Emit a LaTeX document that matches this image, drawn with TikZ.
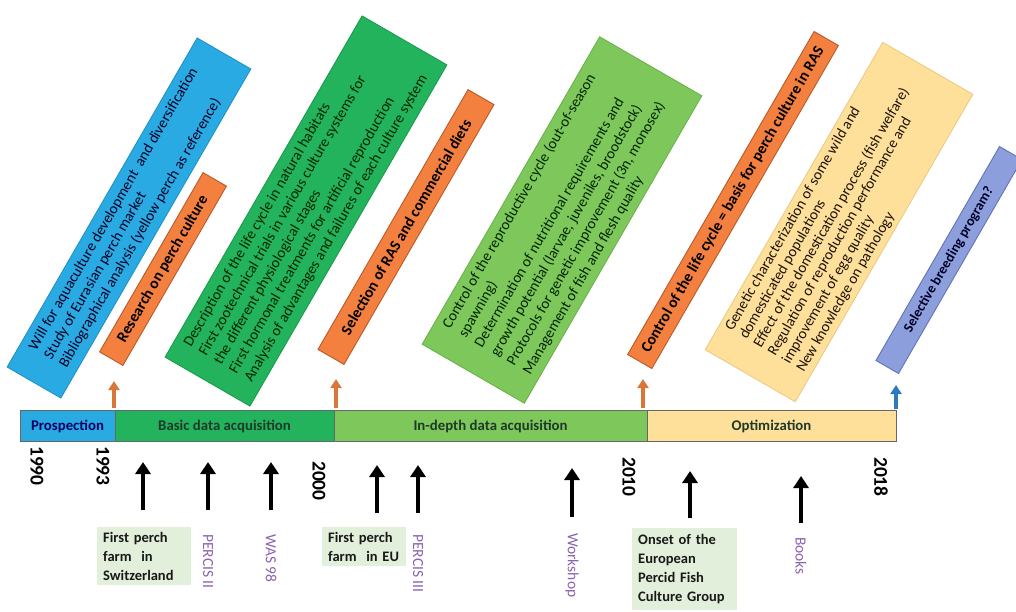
\documentclass[tikz,border=0pt]{standalone}
\usepackage{fontspec}
\setmainfont{Carlito}
\usetikzlibrary{arrows.meta}
\definecolor{cblue}{HTML}{2AAAE2}
\definecolor{cblueD}{HTML}{1E8FC4}
\definecolor{cgreen}{HTML}{22B35C}
\definecolor{cgreenD}{HTML}{18994A}
\definecolor{clgreen}{HTML}{7EC75B}
\definecolor{clgreenD}{HTML}{69B048}
\definecolor{cyellow}{HTML}{FEE09B}
\definecolor{cyellowD}{HTML}{EBC87E}
\definecolor{corange}{HTML}{F3803F}
\definecolor{corangeD}{HTML}{B85A2A}
\definecolor{cpurple}{HTML}{8C9FDC}
\definecolor{cpurpleD}{HTML}{6073B5}
\definecolor{clab}{HTML}{E2EFDA}
\definecolor{cviolet}{HTML}{8A62B0}
\definecolor{carrowO}{HTML}{D9773A}
\definecolor{carrowB}{HTML}{2E78C0}
\definecolor{cbartext}{HTML}{1F3A2A}
\begin{document}
\begin{tikzpicture}[x=1pt,y=1pt,
  bigbox/.style={rotate=60, draw, line width=0.8pt, inner sep=0pt,
     align=left, font=\fontsize{15}{17.5}\selectfont},
  thinbox/.style={rotate=60, draw, line width=0.9pt, inner sep=0pt, align=center,
     font=\bfseries\fontsize{15.5}{17}\selectfont, text=black},
  seg/.style={draw=gray!80!black, line width=0.8pt, minimum height=31pt, inner sep=0pt,
     font=\bfseries\fontsize{14.8}{16}\selectfont, text=cbartext},
  year/.style={rotate=-90, anchor=west, inner sep=0pt, font=\bfseries\fontsize{19.5}{21}\selectfont},
  evbox/.style={fill=clab, anchor=north west, inner xsep=6pt, inner ysep=5pt, align=left,
     font=\bfseries\fontsize{14.5}{19}\selectfont, text=black!90},
  evtxt/.style={rotate=-90, anchor=west, inner sep=0pt, text=cviolet, font=\fontsize{15.5}{17}\selectfont},
  blarrow/.style={line width=4.2pt, -{Triangle[width=15pt,length=12pt]}, black},
  smarrow/.style={line width=3.6pt, -{Triangle[width=11pt,length=9pt]}}
]
\useasboundingbox (0,0) rectangle (1016,-611);

% ---------------- rotated boxes ----------------
\node[bigbox, fill=cblue, draw=cblueD, text=black!75!blue!60!black, minimum width=380, minimum height=62]
  (b1) at (129,-218) {Will for aquaculture development\ \ and diversification\\Study of Eurasian perch market\\Bibliographical analysis (yellow perch as reference)};
\node[thinbox, fill=corange, draw=corangeD, minimum width=207, minimum height=27]
  (o1) at (163,-269) {Research on perch culture};
\node[bigbox, fill=cgreen, draw=cgreenD, text=black!85!green, minimum width=394, minimum height=98]
  (b2) at (306,-211) {Description of the life cycle in natural habitats\\First zootechnical trials in various culture systems for\\the different physiological stages\\First hormonal treatments for artificial reproduction\\Analysis of advantages and failures of each culture system};
\node[thinbox, fill=corange, draw=corangeD, minimum width=300, minimum height=30]
  (o2) at (406,-227) {Selection of RAS and commercial diets};
\node[bigbox, fill=clgreen, draw=clgreenD, text=black!85!green, minimum width=355, minimum height=118, font=\fontsize{15}{18.5}\selectfont]
  (b3) at (562,-220) {Control of the reproductive cycle (out-of-season\\spawning)\\Determination of nutritional requirements and\\growth potential (larvae, juveniles, broodstock)\\Protocols for genetic improvement (3n, monosex)\\Management of fish and flesh quality};
\node[thinbox, fill=corange, draw=corangeD, minimum width=373, minimum height=28]
  (o3) at (733,-200) {Control of the life cycle = basis for perch culture in RAS};
\node[bigbox, fill=cyellow, draw=cyellowD, text=black!85!brown, minimum width=355, minimum height=104, font=\fontsize{15}{16.5}\selectfont]
  (b4) at (839,-222) {Genetic characterization of some wild and\\domesticated populations\\Effect of the domestication process (fish welfare)\\Regulation of reproduction performance and\\improvement of egg quality\\New knowledge on pathology};
\node[thinbox, fill=cpurple, draw=cpurpleD, minimum width=247, minimum height=26, text=black!85!blue, font=\bfseries\fontsize{14}{16}\selectfont]
  (p1) at (949,-260) {Selective breeding program?};

% ---------------- small arrows to boxes ----------------
\coordinate (s1a) at (114,-408); \coordinate (s1b) at (114,-381);
\coordinate (s2a) at (336,-408); \coordinate (s2b) at (336,-379);
\coordinate (s3a) at (643,-408); \coordinate (s3b) at (643,-379);
\coordinate (s4a) at (896,-409); \coordinate (s4b) at (896,-385);
\draw[smarrow, carrowO] (s1a) -- (s1b);
\draw[smarrow, carrowO] (s2a) -- (s2b);
\draw[smarrow, carrowO] (s3a) -- (s3b);
\draw[smarrow, carrowB] (s4a) -- (s4b);

% ---------------- timeline bar ----------------
\node[seg, fill=cblue, minimum width=95, text=blue!40!black] (t1) at (67.5,-426) {Prospection};
\node[seg, fill=cgreen, minimum width=219] (t2) at (224.5,-426) {Basic data acquisition};
\node[seg, fill=clgreen, minimum width=313] (t3) at (490.5,-426) {In-depth data acquisition};
\node[seg, fill=cyellow, minimum width=249] (t4) at (771.5,-426) {Optimization};

% ---------------- years ----------------
\node[year] (y1) at (37,-446) {1990};
\node[year] (y2) at (103,-446) {1993};
\node[year] (y3) at (319,-461) {2000};
\node[year] (y4) at (629,-457) {2010};
\node[year] (y5) at (881,-457) {2018};

% ---------------- events ----------------
\node[evbox, text width=82] (e1) at (97,-527) {First perch\\farm\ \ in\\Switzerland};
\node[evtxt] (e2) at (208,-534) {PERCIS II};
\node[evtxt] (e3) at (271,-534) {WAS 98};
\node[evbox, text width=72] (e4) at (322,-527) {First perch\\farm\ \ in EU};
\node[evtxt] (e5) at (418,-534) {PERCIS III};
\node[evtxt] (e6) at (572,-533) {Workshop};
\node[evbox, text width=93, inner ysep=6pt] (e7) at (632,-528) {Onset of the\\European\\Percid Fish\\Culture Group};
\node[evtxt] (e8) at (801,-537) {Books};

\coordinate (a1s) at (143,-510); \coordinate (a1e) at (143,-462);
\coordinate (a2s) at (208,-510); \coordinate (a2e) at (208,-462);
\coordinate (a3s) at (271,-510); \coordinate (a3e) at (271,-462);
\coordinate (a4s) at (377,-513); \coordinate (a4e) at (377,-465);
\coordinate (a5s) at (418,-513); \coordinate (a5e) at (418,-465);
\coordinate (a6s) at (572,-517); \coordinate (a6e) at (572,-468);
\coordinate (a7s) at (690,-518); \coordinate (a7e) at (690,-471);
\coordinate (a8s) at (801,-523); \coordinate (a8e) at (801,-476);
\draw[blarrow] (a1s) -- (a1e);
\draw[blarrow] (a2s) -- (a2e);
\draw[blarrow] (a3s) -- (a3e);
\draw[blarrow] (a4s) -- (a4e);
\draw[blarrow] (a5s) -- (a5e);
\draw[blarrow] (a6s) -- (a6e);
\draw[blarrow] (a7s) -- (a7e);
\draw[blarrow] (a8s) -- (a8e);
\end{tikzpicture}
\end{document}
